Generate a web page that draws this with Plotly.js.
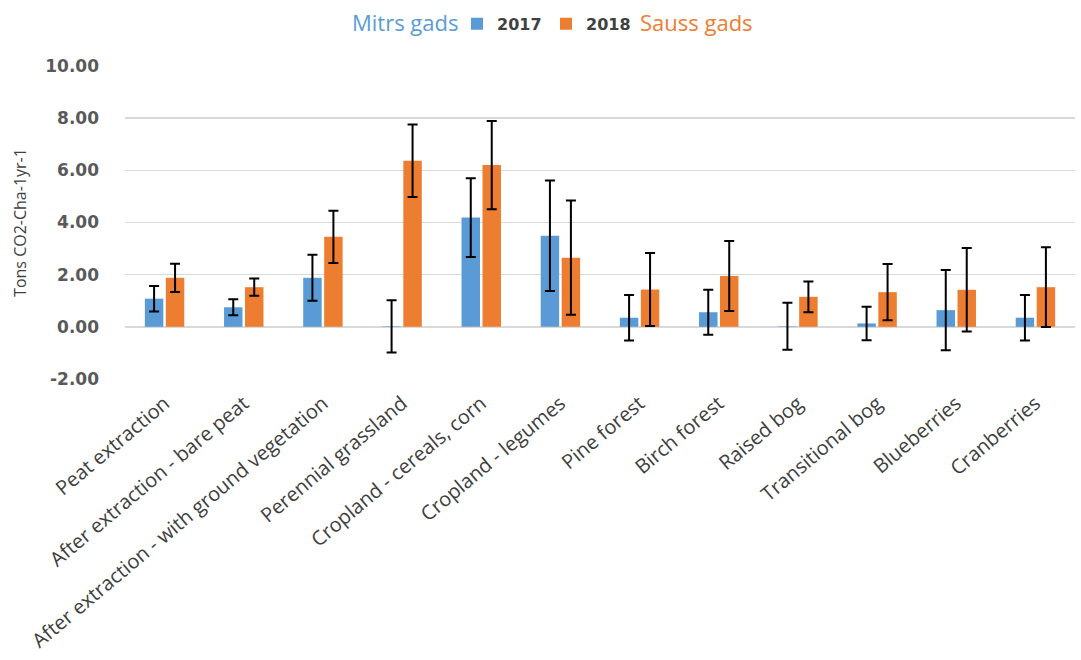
<!DOCTYPE html>
<html>
<head>
<meta charset="utf-8">
<script src="https://cdn.plot.ly/plotly-3.0.1.min.js"></script>
<style>html,body{margin:0;padding:0;background:#fff;}#chart{width:1081px;height:660px;}</style>
</head>
<body>
<div id="chart"></div>
<script>
const categories = ["Peat extraction","After extraction - bare peat","After extraction - with ground vegetation","Perennial grassland","Cropland - cereals, corn","Cropland - legumes","Pine forest","Birch forest","Raised bog","Transitional bog","Blueberries","Cranberries"];
const values2017 = [1.08, 0.75, 1.88, 0.02, 4.19, 3.49, 0.35, 0.56, 0.02, 0.13, 0.64, 0.35];
const errors2017 = [0.49, 0.31, 0.88, 1.00, 1.51, 2.12, 0.87, 0.86, 0.90, 0.64, 1.54, 0.87];
const values2018 = [1.88, 1.52, 3.45, 6.37, 6.20, 2.65, 1.43, 1.95, 1.15, 1.33, 1.42, 1.52];
const errors2018 = [0.54, 0.33, 1.00, 1.39, 1.69, 2.19, 1.40, 1.34, 0.59, 1.08, 1.60, 1.53];
const seriesNames = ["2017", "2018"];
const yTicks = [-2, 0, 2, 4, 6, 8, 10];
const yTickLabels = ["-2.00", "0.00", "2.00", "4.00", "6.00", "8.00", "10.00"];

const BLUE = "#5B9BD5", ORANGE = "#ED7D31";
const errStyle = {type: "data", visible: true, color: "#000000", thickness: 2, width: 5};

const traces = [
  {type: "bar", name: seriesNames[0], x: categories, y: values2017,
   marker: {color: BLUE}, error_y: Object.assign({array: errors2017}, errStyle)},
  {type: "bar", name: seriesNames[1], x: categories, y: values2018,
   marker: {color: ORANGE}, error_y: Object.assign({array: errors2018}, errStyle)}
];

const layout = {
  width: 1081, height: 660,
  margin: {l: 125, r: 6, t: 66, b: 281},
  paper_bgcolor: "#ffffff", plot_bgcolor: "#ffffff",
  font: {family: "Open Sans, sans-serif", color: "#404040"},
  barmode: "group", bargap: 0.47, bargroupgap: 0.12,
  showlegend: true,
  legend: {orientation: "h", x: (457-125)/950, xanchor: "left", y: 1.135, yanchor: "middle",
           font: {family: "DejaVu Sans, sans-serif", size: 16, color: "#404040", weight: "bold"},
           entrywidth: 44, entrywidthmode: "pixels", bgcolor: "rgba(0,0,0,0)"},
  xaxis: {type: "category", tickangle: -40, tickfont: {size: 20, color: "#404040"},
          showgrid: false, showline: false, ticks: "", automargin: false, ticklabelstandoff: 8},
  yaxis: {range: [-2, 10], tickvals: yTicks, ticktext: yTickLabels,
          tickfont: {family: "DejaVu Sans, sans-serif", size: 17, color: "#595959", weight: "bold"},
          showgrid: true, gridcolor: "#d9d9d9", gridwidth: 1.5,
          zeroline: false, showline: false, ticks: "", ticklen: 0, ticklabelstandoff: 25,
          automargin: false,
          title: {text: "Tons CO2-Cha-1yr-1", font: {size: 16, color: "#404040"}, standoff: 14}},
  annotations: [
    {text: "Mitrs gads", xref: "paper", yref: "paper", x: (405-125)/950, y: 1.14, xanchor: "center", yanchor: "middle",
     showarrow: false, font: {size: 22, color: BLUE}},
    {text: "Sauss gads", xref: "paper", yref: "paper", x: (696-125)/950, y: 1.14, xanchor: "center", yanchor: "middle",
     showarrow: false, font: {size: 22, color: ORANGE}}
  ]
};

Plotly.newPlot("chart", traces, layout, {displayModeBar: false, staticPlot: true});
</script>
</body>
</html>
